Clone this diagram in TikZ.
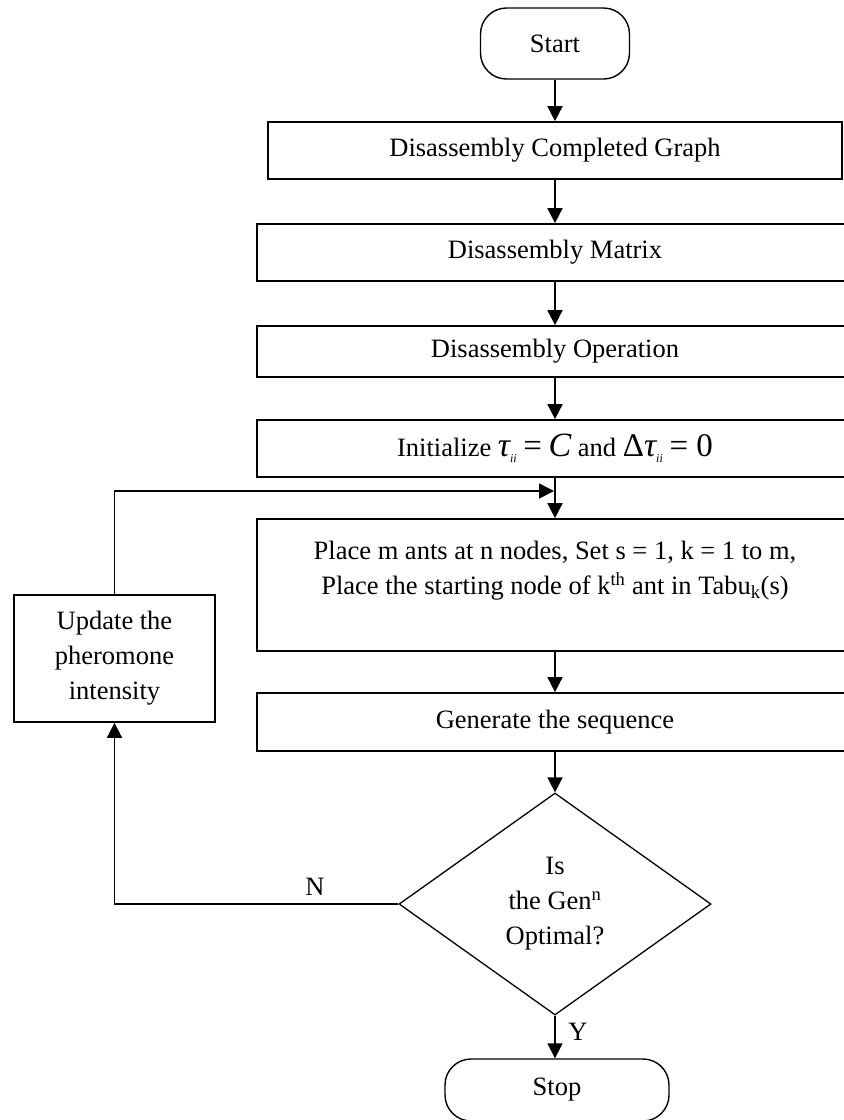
\documentclass[tikz,border=0pt]{standalone}
\usepackage{fontspec}
\setmainfont{Liberation Serif}
\usetikzlibrary{shapes.geometric,arrows.meta}
\newcommand{\bigit}[1]{{\fontsize{34}{34}\selectfont\itshape #1}}
\newcommand{\bigup}[1]{{\fontsize{33}{33}\selectfont #1}}
\newcommand{\subii}{\raisebox{-6pt}{\fontsize{12}{12}\selectfont\itshape ii}}
\tikzset{
  box/.style={draw, line width=1.7pt, rectangle, align=center, inner sep=0pt},
  term/.style={draw, line width=1.4pt, rounded corners=26pt, align=center, inner sep=0pt},
  decision/.style={draw, line width=1.3pt, diamond, align=center, inner sep=0pt},
  arr/.style={line width=1.7pt, -{Triangle[length=15pt,width=15pt]}},
  lbl/.style={inner sep=0pt}
}
\begin{document}
\begin{tikzpicture}[x=1pt,y=-1pt, font=\fontsize{26.5}{35}\selectfont]
\useasboundingbox (0,0) rectangle (844,1120);
\clip (0,0) rectangle (844,1120);
\fill[white] (0,0) rectangle (844,1120);

\node[term, minimum width=149pt, minimum height=71pt] (start) at (555,43.5) {Start};
\node[box, minimum width=574pt, minimum height=57pt] (b1) at (555,150.5) {Disassembly Completed Graph};
\node[box, minimum width=596pt, minimum height=57pt] (b2) at (555,252.5) {Disassembly Matrix};
\node[box, minimum width=596pt, minimum height=51pt] (b3) at (555,351.5) {Disassembly Operation};
\node[box, minimum width=596pt, minimum height=57pt] (b4) at (555,448.5) {Initialize \bigit{τ}\subii{} \bigup{=} \bigit{C} and \bigup{Δ}\bigit{τ}\subii{} \bigup{= 0}};
\node[box, minimum width=596pt, minimum height=132pt] (b5) at (555,585) {Place m ants at n nodes, Set s = 1, k = 1 to m,\\Place the starting node of k\textsuperscript{th} ant in Tabu\textsubscript{k}(s)\\\mbox{}};
\node[box, minimum width=596pt, minimum height=58pt] (b6) at (555,722) {Generate the sequence};
\node[decision, minimum width=312pt, minimum height=222pt] (dec) at (555,904) {Is\\the Gen\textsuperscript{n}\\Optimal?};
\node[term, minimum width=224pt, minimum height=62pt] (stop) at (557,1090) {Stop};
\node[box, minimum width=201pt, minimum height=127pt] (upd) at (114.5,658.5) {Update the\\pheromone\\intensity};

\coordinate (join) at (554,491);

\draw[arr] (start.south) -- (b1.north);
\draw[arr] (b1.south) -- (b2.north);
\draw[arr] (b2.south) -- (b3.north);
\draw[arr] (b3.south) -- (b4.north);
\draw[arr] (b4.south) -- (b5.north);
\draw[arr] (upd.north) |- (join);
\draw[arr] (b5.south) -- (b6.north);
\draw[arr] (b6.south) -- (dec.north);
\draw[arr] (dec.west) -| (upd.south);
\draw[arr] (dec.south) -- (dec.south |- stop.north);

\node[lbl] (nlbl) at (315,887) {N};
\node[lbl] (ylbl) at (578,1032) {Y};
\end{tikzpicture}
\end{document}
